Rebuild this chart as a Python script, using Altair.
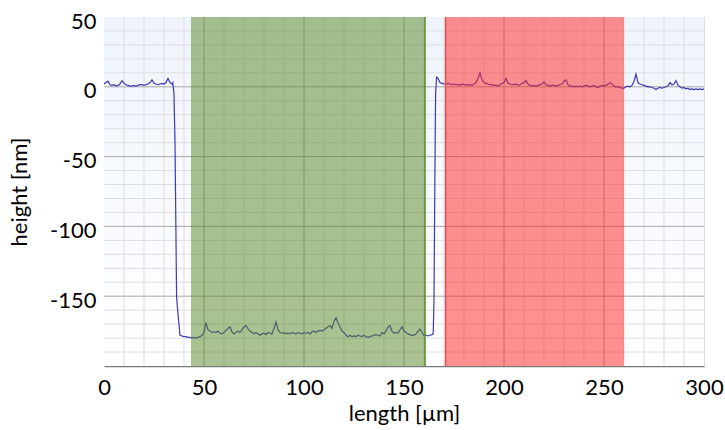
import altair as alt
import pandas as pd

# ---- profile data (length in µm, height in nm) ----
x_um = [0, 1, 2, 3, 4, 5, 6, 7, 8, 9, 10, 11, 12, 13, 14, 15, 16, 17, 18, 19,
        20, 21, 22, 23, 24, 25, 26, 27, 28, 29, 30, 31, 32, 33, 34, 34.4, 35.0,
        35.5, 36.3, 37.2, 38.0,
        39, 40, 41, 42, 43, 44, 45, 46, 47, 48, 49, 50, 51, 52, 53, 54, 55, 56,
        57, 58, 59, 60, 61, 62, 63, 64, 65, 66, 67, 68, 69, 70, 71, 72, 73, 74,
        75, 76, 77, 78, 79, 80, 81, 82, 83, 84, 85, 86, 87, 88, 89, 90, 91, 92,
        93, 94, 95, 96, 97, 98, 99, 100, 101, 102, 103, 104, 105, 106, 107, 108,
        109, 110, 111, 112, 113, 114, 115, 116, 117, 118, 119, 120, 121, 122,
        123, 124, 125, 126, 127, 128, 129, 130, 131, 132, 133, 134, 135, 136,
        137, 138, 139, 140, 141, 142, 143, 144, 145, 146, 147, 148, 149, 150,
        151, 152, 153, 154, 155, 156, 157, 158, 159, 160, 161, 162, 163, 164,
        164.6, 165.0, 165.4, 165.8, 166.3, 167, 168, 169,
        170, 171, 172, 173, 174, 175, 176, 177, 178, 179, 180, 181, 182, 183,
        184, 185, 186, 187, 188, 189, 190, 191, 192, 193, 194, 195, 196, 197,
        198, 199, 200, 201, 202, 203, 204, 205, 206, 207, 208, 209, 210, 211,
        212, 213, 214, 215, 216, 217, 218, 219, 220, 221, 222, 223, 224, 225,
        226, 227, 228, 229, 230, 231, 232, 233, 234, 235, 236, 237, 238, 239,
        240, 241, 242, 243, 244, 245, 246, 247, 248, 249, 250, 251, 252, 253,
        254, 255, 256, 257, 258, 259, 260, 261, 262, 263, 264, 265, 266, 267,
        268, 269, 270, 271, 272, 273, 274, 275, 276, 277, 278, 279, 280, 281,
        282, 283, 284, 285, 286, 287, 288, 289, 290, 291, 292, 293, 294, 295,
        296, 297, 298, 299, 300]

height_nm = [2, 3, 4, 1.5, 1, 1.5, 0.5, 1, 2, 4.5, 2.5, 1.5, 1, 0.5, 0.5, 1, 0.5,
             1, 1.5, 1.5, 1, 1.5, 2, 3, 5, 2.5, 2, 1.5, 2, 2.5, 2, 3, 6, 3, 2, 3,
             -5, -40, -151, -166, -178,
             -178.5, -179, -179, -179.5, -179.5, -180, -179.5, -180, -179.5,
             -179, -178, -176, -169, -174, -175, -176, -175.5, -176, -175,
             -176.5, -177, -176, -174.5, -173, -172, -175.5, -177, -176, -175,
             -176, -174, -172, -171, -173.5, -175, -176, -177, -176, -177, -178,
             -177, -176.5, -177.5, -176, -176.5, -177, -173, -168.5, -174, -176,
             -176.5, -176, -177, -176.5, -177, -176, -176.5, -177, -176, -176.5,
             -177, -176, -176.5, -176, -177, -175.5, -175, -176, -175, -174.5,
             -175, -174, -173, -172, -171, -173, -168, -165.5, -169, -172, -175,
             -176, -178, -179, -178, -179, -178.5, -179, -178, -178.5, -179,
             -178, -179, -179.5, -179, -178.5, -178, -177.5, -178, -178.5, -176,
             -177, -175, -172, -171, -175, -176.5, -176, -176.5, -174, -172,
             -175, -176, -177, -177.5, -178, -178, -177, -175, -173.5, -176,
             -178, -178, -178.5, -178, -177.5,
             -177, -153, -73, -5, 7, 6, 3, 2.5,
             2, 2, 2.5, 2, 1.5, 2, 1.5, 1.5, 1, 2, 1.5, 1.5, 1, 1.5, 1, 2, 3, 6,
             10, 5, 3, 2.5, 2, 1.5, 1.5, 1, 1, 0.5, 1.5, 2.5, 3, 6, 2.5, 2, 1.5,
             1.5, 2, 1, 1.5, 2.5, 3, 4.5, 2, 1, 0.5, 1, 0.5, 1, 1.5, 2, 3.5, 1.5,
             1, 0.5, 1, 1, 0.5, 1, 1.5, 2, 4, 5, 1.5, 0.5, 0.5, 0, 0.5, 0, 0.5, 0,
             0.5, 1, 0.5, 0, 0.5, 1, 0, -0.5, 0.5, 1, 0.5, 1, 2, 3, 2, 0.5, 0, 0,
             -0.5, -1, -1, 0, 0.5, 0, 1, 4, 9, 3, 2, 1.5, 1, 0.5, 0, 0, -0.5, -1,
             -2, -1, -0.5, -1, -0.5, 0, 0.5, 3, 1.5, 2, 4.5, 1, 0, -1, -0.5, -1.5,
             -1, -2, -1.5, -2, -1.5, -2, -1.5, -2, -1.5]

# shaded regions
region_start = [43.5, 170.8]
region_end = [160.5, 260.0]
region_color = ["#558523", "#ff2222"]
edge_pos = [160.5, 170.8]
edge_color = ["#5a8a2a", "#f04a4a"]

x_domain = [0, 300]
y_domain = [-200, 50]
x_ticks = [0, 50, 100, 150, 200, 250, 300]
y_ticks = [-150, -100, -50, 0, 50]
x_minor = [10, 20, 30, 40, 60, 70, 80, 90, 110, 120, 130, 140, 160, 170, 180,
           190, 210, 220, 230, 240, 260, 270, 280, 290]
x_major = [50, 100, 150, 200, 250]
y_minor = [-190, -180, -170, -160, -140, -130, -120, -110, -90, -80, -70, -60,
           -40, -30, -20, -10, 10, 20, 30, 40]
y_major = [-150, -100, -50, 0]

FONT = "Lato"
X_TITLE = "length [µm]"
Y_TITLE = "height [nm]"

xs = alt.Scale(domain=x_domain, nice=False, zero=False)
ys = alt.Scale(domain=y_domain, nice=False, zero=False)

x_axis = alt.Axis(values=x_ticks, grid=False, ticks=False,
                  labelFontSize=22, titleFontSize=22, labelFont=FONT,
                  titleFont=FONT, labelColor="#000", titleColor="#000",
                  titleFontWeight="normal", labelPadding=11,
                  titlePadding=5, domainColor="#7a7a7a", domainWidth=1.5,
                  labelFlush=False)
y_axis = alt.Axis(values=y_ticks, grid=False, ticks=False,
                  labelExpr="datum.value + ''",
                  labelFontSize=22, titleFontSize=22, labelFont=FONT,
                  titleFont=FONT, labelColor="#000", titleColor="#000",
                  titleFontWeight="normal", labelPadding=8,
                  titlePadding=18, domainColor="#c4c4c4",
                  labelOffset=4, labelFlush=False)


def X(field):
    return alt.X(field, scale=xs, axis=x_axis, title=X_TITLE)


def Y(field):
    return alt.Y(field, scale=ys, axis=y_axis, title=Y_TITLE)


profile = pd.DataFrame({"x": x_um, "y": height_nm})
regions = pd.DataFrame({"x0": region_start, "x1": region_end, "c": region_color})
edges = pd.DataFrame({"x": edge_pos, "c": edge_color})

bg = alt.Chart(pd.DataFrame({"a": [x_domain[0]], "b": [x_domain[1]]})).mark_rect(
    color=alt.LinearGradient(
        gradient="linear",
        stops=[alt.GradientStop(color="#eff4fc", offset=0),
               alt.GradientStop(color="#ffffff", offset=1)],
        x1=0, x2=0, y1=0, y2=1),
).encode(x=X("a:Q"), x2="b:Q")

vmin = alt.Chart(pd.DataFrame({"v": x_minor})).mark_rule(
    color="#dcdde0", strokeWidth=1).encode(x=X("v:Q"))
vmaj = alt.Chart(pd.DataFrame({"v": x_major})).mark_rule(
    color="#a8a8a8", strokeWidth=1).encode(x=X("v:Q"))
hmin = alt.Chart(pd.DataFrame({"v": y_minor})).mark_rule(
    color="#dcdde0", strokeWidth=1).encode(y=Y("v:Q"))
hmaj = alt.Chart(pd.DataFrame({"v": y_major})).mark_rule(
    color="#a8a8a8", strokeWidth=1).encode(y=Y("v:Q"))

line = alt.Chart(profile).mark_line(color="#3c3cb0", strokeWidth=1.2).encode(
    x=X("x:Q"), y=Y("y:Q"))

rects = alt.Chart(regions).mark_rect(opacity=0.5).encode(
    x=X("x0:Q"), x2="x1:Q", color=alt.Color("c:N", scale=None))

edge_rules = alt.Chart(edges).mark_rule(strokeWidth=1.5).encode(
    x=X("x:Q"), color=alt.Color("c:N", scale=None))

chart = alt.layer(bg, vmin, hmin, vmaj, hmaj, line, rects, edge_rules).properties(
    width=600, height=349,
    autosize=alt.AutoSizeParams(type="none"),
    padding={"left": 104, "top": 17, "right": 21, "bottom": 64},
).configure_view(stroke="#b4b4b4", strokeWidth=1.5).configure(background="white")

chart.save("out.html", embed_options={"renderer": "svg", "actions": False})
